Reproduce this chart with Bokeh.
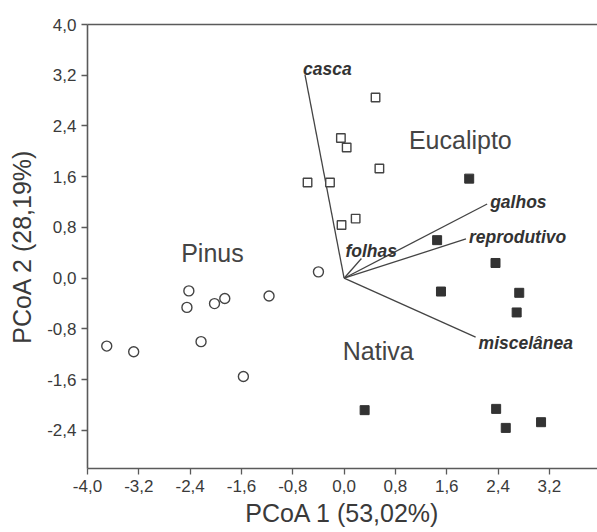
from bokeh.plotting import figure
from bokeh.models import LinearAxis, FixedTicker, Range1d
from bokeh.core.properties import value
from bokeh.embed import file_html
from bokeh.resources import INLINE

# ---- data ----
pinus_x = [-2.42, -2.45, -2.02, -1.86, -1.17, -2.23, -3.70, -3.28, -1.57, -0.40]
pinus_y = [-0.20, -0.46, -0.40, -0.32, -0.28, -1.00, -1.07, -1.16, -1.55, 0.10]

eucalipto_x = [0.49, -0.05, 0.04, 0.55, -0.57, -0.22, 0.18, -0.04]
eucalipto_y = [2.85, 2.21, 2.06, 1.73, 1.51, 1.51, 0.94, 0.84]

nativa_x = [1.95, 1.45, 2.36, 1.51, 2.73, 2.69, 0.32, 2.37, 2.52, 3.07]
nativa_y = [1.57, 0.60, 0.24, -0.21, -0.23, -0.54, -2.08, -2.06, -2.36, -2.27]

vector_names = ["casca", "galhos", "reprodutivo", "folhas", "miscelânea"]
vector_x = [-0.61, 2.23, 1.90, 0.27, 2.05]
vector_y = [3.21, 1.17, 0.62, 0.31, -0.93]

group_names = ["Pinus", "Eucalipto", "Nativa"]
group_x = [-2.54, 1.01, -0.02]
group_y = [0.40, 2.18, -1.15]

x_ticks = [-4.0, -3.2, -2.4, -1.6, -0.8, 0.0, 0.8, 1.6, 2.4, 3.2]
x_tick_labels = ["-4,0", "-3,2", "-2,4", "-1,6", "-0,8", "0,0", "0,8", "1,6", "2,4", "3,2"]
y_ticks = [-2.4, -1.6, -0.8, 0.0, 0.8, 1.6, 2.4, 3.2, 4.0]
y_tick_labels = ["-2,4", "-1,6", "-0,8", "0,0", "0,8", "1,6", "2,4", "3,2", "4,0"]

x_title = "PCoA 1 (53,02%)"
y_title = "PCoA 2 (28,19%)"

# ---- styling ----
FONT = "Liberation Sans"
AXIS_COLOR = "#5a5a5a"
TEXT_COLOR = "#3a3a3a"
MARK_COLOR = "#444444"

p = figure(width=597, height=532, output_backend="svg", toolbar_location=None,
           x_range=Range1d(-4.0, 3.95), y_range=Range1d(-3.0, 4.0),
           min_border_left=87, min_border_right=0, min_border_top=24, min_border_bottom=64)
p.outline_line_color = None
p.grid.visible = False
p.background_fill_color = "white"
p.border_fill_color = "white"

for ax, ticks, labels, title in ((p.xaxis[0], x_ticks, x_tick_labels, x_title),
                                 (p.yaxis[0], y_ticks, y_tick_labels, y_title)):
    ax.ticker = FixedTicker(ticks=ticks)
    ax.major_label_overrides = dict(zip(ticks, labels))
    ax.axis_label = title
    ax.axis_label_text_font = FONT
    ax.axis_label_text_font_size = "25px"
    ax.axis_label_text_font_style = "normal"
    ax.axis_label_text_color = TEXT_COLOR
    ax.major_label_text_font = FONT
    ax.major_label_text_font_size = "17px"
    ax.major_label_text_color = TEXT_COLOR
    ax.axis_line_color = AXIS_COLOR
    ax.axis_line_width = 1.6
    ax.major_tick_line_color = AXIS_COLOR
    ax.major_tick_line_width = 1.3
    ax.major_tick_out = 6
    ax.major_tick_in = 0
    ax.minor_tick_line_color = None
    ax.major_label_standoff = 5

p.yaxis[0].axis_label_standoff = 8
p.xaxis[0].axis_label_standoff = 4

top = LinearAxis(ticker=FixedTicker(ticks=[]), axis_line_color=AXIS_COLOR, axis_line_width=1.6,
                 major_tick_out=0, major_tick_in=0, minor_tick_out=0, minor_tick_in=0,
                 major_label_text_font_size="0px")
p.add_layout(top, "above")

# vectors
p.segment(x0=0, y0=0, x1=vector_x, y1=vector_y, line_color=MARK_COLOR, line_width=1.3)
p.text(x=vector_x, y=vector_y, text=vector_names,
       x_offset=[-2, 3, 3, -16, 3], y_offset=[-6, -2, -2, -8, 6],
       text_font=value(FONT), text_font_size="17.5px", text_font_style="bold italic",
       text_color="#333333", text_baseline="alphabetic", text_align="left")

# points
p.scatter(pinus_x, pinus_y, marker="circle", size=10, fill_color="white",
          line_color=MARK_COLOR, line_width=1.4)
p.scatter(eucalipto_x, eucalipto_y, marker="square", size=8.5, fill_color="white",
          line_color=MARK_COLOR, line_width=1.4)
p.scatter(nativa_x, nativa_y, marker="square", size=9, fill_color="#333333",
          line_color="#333333", line_width=1)

# group labels
p.text(x=group_x, y=group_y, text=group_names, text_font=value(FONT),
       text_font_size="25px", text_color="#444444", text_baseline="alphabetic",
       text_align="left")

open("out.html", "w").write(file_html(p, INLINE))
